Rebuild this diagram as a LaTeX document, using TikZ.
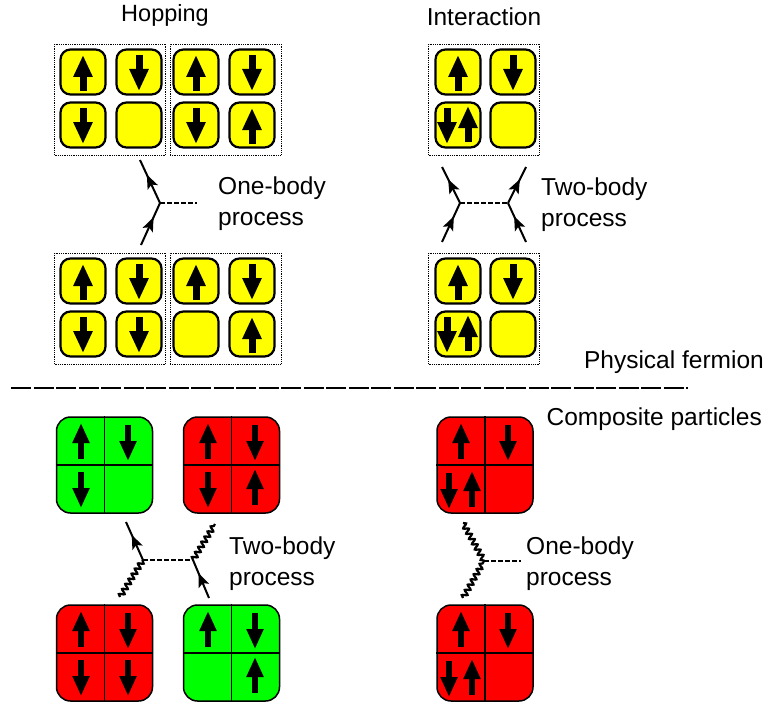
\documentclass[tikz,border=0pt]{standalone}
\usepackage{fontspec}
\setmainfont{Liberation Sans}
\usepackage{tikz}
\usetikzlibrary{arrows.meta,decorations.pathmorphing,decorations.markings}
\definecolor{siteyellow}{RGB}{255,255,0}
\definecolor{compgreen}{RGB}{0,255,0}
\definecolor{compred}{RGB}{255,0,0}

\tikzset{
  lbl/.style={font=\fontsize{24.5}{31}\selectfont, inner sep=0pt},
  lblblock/.style={lbl, align=left, anchor=west},
  site/.style={draw, line width=2.2pt, fill=siteyellow, rounded corners=10pt, minimum size=45pt, inner sep=0pt},
  cluster/.style={draw, line width=0.8pt, densely dotted, minimum width=111pt, minimum height=111pt, inner sep=0pt},
  comp/.style={draw, line width=1.5pt, rounded corners=14pt, minimum size=96pt, inner sep=0pt},
  bigspin/.style={line width=7pt, -{Triangle[length=22pt,width=18pt]}},
  smallspin/.style={line width=6.5pt, -{Triangle[length=20pt,width=16pt]}},
  fermion/.style={line width=2pt, postaction={decorate}, decoration={markings,
      mark=at position 0.66 with {\arrow{Stealth[length=14pt,width=11pt,inset=3pt]}}}},
  boson/.style={line width=2.2pt, decorate, decoration={snake, amplitude=2.5pt, segment length=6pt}},
  exch/.style={line width=1.5pt, dash pattern=on 4.5pt off 2.5pt}
}
\newcommand{\upsp}[3][bigspin]{\draw[#1] (#2,#3+18) -- (#2,#3-18);}
\newcommand{\dnsp}[3][bigspin]{\draw[#1] (#2,#3-18) -- (#2,#3+18);}
\newcommand{\crosslines}[1]{\draw[line width=1.5pt] (#1.north) -- (#1.south) (#1.west) -- (#1.east);}

\begin{document}
\begin{tikzpicture}[x=1pt,y=-1pt]
  \useasboundingbox (0,0) rectangle (767,706);

  % Titles
  \node[lbl, font=\fontsize{23.5}{31}\selectfont] (hoptitle) at (165,15) {Hopping};
  \node[lbl] (inttitle) at (484,17) {Interaction};

  % Dotted clusters, physical fermion
  \node[cluster] (ca) at (110,99.5) {};
  \node[cluster] (cb) at (225.5,99.5) {};
  \node[cluster] (cc) at (484,99.5) {};
  \node[cluster] (cd) at (110,308.5) {};
  \node[cluster] (ce) at (225.5,308.5) {};
  \node[cluster] (cf) at (484,308.5) {};

  % Yellow sites
  \foreach \sx/\col in {83/a,139/b,196/c,252/d,458/e,513/f}{
    \foreach \sy/\row in {72/p,125/q,281/r,334/s}{
      \node[site] (s\col\row) at (\sx,\sy) {};
    }
  }

  % Upper row spins, hopping
  \upsp{83}{73}  \dnsp{139}{73} \upsp{196}{73} \dnsp{252}{73}
  \dnsp{83}{126} \dnsp{196}{126} \upsp{252}{126}
  % Lower row spins, hopping
  \upsp{83}{282}  \dnsp{139}{282} \upsp{196}{282} \dnsp{252}{282}
  \dnsp{83}{335} \dnsp{139}{335} \upsp{252}{335}
  % Spins, interaction
  \foreach \dy in {0,209}{
    \upsp{458}{73+\dy} \dnsp{513}{73+\dy}
    \dnsp{447}{126+\dy} \upsp{468}{124+\dy}
  }

  % One-body vertex, hopping
  \coordinate (va) at (160,203);
  \coordinate (vaup) at (140,160);
  \coordinate (vadn) at (141,245);
  \coordinate (vaend) at (197,203);
  \draw[fermion] (vadn) -- (va);
  \draw[fermion] (va) -- (vaup);
  \draw[exch] (va) -- (vaend);
  \node[lblblock] (onea) at (218,204) {One-body\\process};

  % Two-body vertex, interaction
  \coordinate (vb) at (460,203);
  \coordinate (vc) at (508,203);
  \coordinate (vbup) at (442,167);
  \coordinate (vbdn) at (442,242);
  \coordinate (vcup) at (526,167);
  \coordinate (vcdn) at (526,242);
  \draw[fermion] (vbdn) -- (vb);
  \draw[fermion] (vb) -- (vbup);
  \draw[fermion] (vcdn) -- (vc);
  \draw[fermion] (vc) -- (vcup);
  \draw[exch] (vb) -- (vc);
  \node[lblblock] (twoa) at (541,205) {Two-body\\process};

  % Separator
  \node[lbl, anchor=east] (phys) at (764,362) {Physical fermion};
  \coordinate (sepl) at (11,388);
  \coordinate (sepr) at (688,388);
  \draw[line width=2pt, dash pattern=on 20pt off 2.5pt] (sepl) -- (sepr);
  \node[lbl, anchor=east] (compos) at (762,419) {Composite particles};

  % Composite particles, red and green
  \node[comp, fill=compgreen] (ga) at (104.5,465) {};
  \node[comp, fill=compred] (ra) at (231.5,465) {};
  \node[comp, fill=compred] (rb) at (485,465) {};
  \node[comp, fill=compred] (rc) at (104.5,653) {};
  \node[comp, fill=compgreen] (gb) at (231.5,653) {};
  \node[comp, fill=compred] (rd) at (485,653) {};
  \foreach \n in {ga,ra,rb,rc,gb,rd}{\crosslines{\n}}

  % Spins, top composites
  \upsp[smallspin]{81}{441} \dnsp[smallspin]{128}{443} \dnsp[smallspin]{81}{490}
  \upsp[smallspin]{208}{441} \dnsp[smallspin]{255}{443} \dnsp[smallspin]{208}{490} \upsp[smallspin]{255}{487}
  \upsp[smallspin]{461}{441} \dnsp[smallspin]{508}{443} \dnsp[smallspin]{449}{491} \upsp[smallspin]{472}{489}
  % Spins, bottom composites
  \upsp[smallspin]{81}{629} \dnsp[smallspin]{128}{631} \dnsp[smallspin]{81}{678} \dnsp[smallspin]{128}{678}
  \upsp[smallspin]{208}{629} \dnsp[smallspin]{255}{631} \upsp[smallspin]{255}{675}
  \upsp[smallspin]{461}{629} \dnsp[smallspin]{508}{631} \dnsp[smallspin]{449}{679} \upsp[smallspin]{472}{677}

  % Two-body vertex, composites
  \coordinate (vd) at (143,560);
  \coordinate (ve) at (193,560);
  \coordinate (vdup) at (126,522);
  \coordinate (vddn) at (120,597);
  \coordinate (veup) at (215,524);
  \coordinate (vedn) at (209,598);
  \draw[fermion] (vd) -- (vdup);
  \draw[boson] (vddn) -- (vd);
  \draw[fermion] (vedn) -- (ve);
  \draw[boson] (ve) -- (veup);
  \draw[exch] (vd) -- (ve);
  \node[lblblock] (twob) at (229,564) {Two-body\\process};

  % One-body vertex, composites
  \coordinate (vf) at (484,561);
  \coordinate (vfup) at (463,523);
  \coordinate (vfdn) at (463,598);
  \coordinate (vfend) at (521,561);
  \draw[boson] (vfup) -- (vf);
  \draw[boson] (vfdn) -- (vf);
  \draw[exch] (vf) -- (vfend);
  \node[lblblock] (oneb) at (526,564) {One-body\\process};
\end{tikzpicture}
\end{document}
